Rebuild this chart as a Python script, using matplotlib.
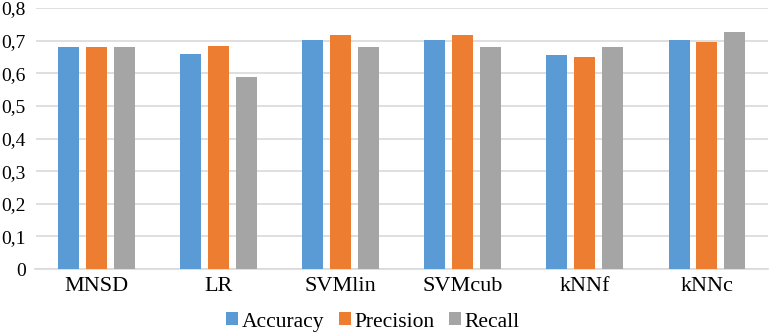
import matplotlib
matplotlib.use("Agg")
import matplotlib.pyplot as plt
import numpy as np
from matplotlib.ticker import FuncFormatter

categories = ["MNSD", "LR", "SVMlin", "SVMcub", "kNNf", "kNNc"]
accuracy = [0.680, 0.658, 0.703, 0.703, 0.657, 0.703]
precision = [0.680, 0.685, 0.716, 0.716, 0.649, 0.696]
recall = [0.680, 0.590, 0.680, 0.680, 0.680, 0.726]
series_names = ["Accuracy", "Precision", "Recall"]
colors = ["#5B9BD5", "#ED7D31", "#A5A5A5"]

plt.rcParams['font.family'] = ['Liberation Serif', 'DejaVu Serif']

fig = plt.figure(figsize=(7.72, 3.36), dpi=100)
left, right, top, bottom = 35.5, 768, 8, 269
ax = fig.add_axes([left/772, (336-bottom)/336, (right-left)/772, (bottom-top)/336])

x = np.arange(len(categories))
w = 0.172
step = 0.229
for i, (vals, name, c) in enumerate(zip([accuracy, precision, recall], series_names, colors)):
    ax.bar(x + (i - 1) * step, vals, width=w, color=c, label=name, zorder=3)

ax.set_xlim(-0.5, len(categories) - 0.5)
ax.set_ylim(0, 0.8)
ax.set_yticks(np.arange(0, 0.81, 0.1))
ax.yaxis.set_major_formatter(FuncFormatter(lambda v, p: "0" if abs(v) < 1e-9 else f"{v:.1f}".replace(".", ",")))
ax.set_xticks(x)
ax.set_xticklabels(categories, fontsize=16)
ax.tick_params(axis='y', labelsize=14, length=0, pad=7, labelcolor='black')
ax.tick_params(axis='x', length=0, pad=6, labelcolor='black')
ax.grid(axis='y', color='#D9D9D9', linewidth=1.2, zorder=0)
for s in ['top', 'right', 'left']:
    ax.spines[s].set_visible(False)
ax.spines['bottom'].set_color('#D9D9D9')
ax.spines['bottom'].set_linewidth(1.2)

fig.legend(loc='center', bbox_to_anchor=(373/772, 1 - 322/336), ncol=3, frameon=False,
           fontsize=15.5, handlelength=0.55, handleheight=0.55, handletextpad=0.15,
           columnspacing=0.7, borderpad=0)

fig.savefig("out.png", dpi=100)
